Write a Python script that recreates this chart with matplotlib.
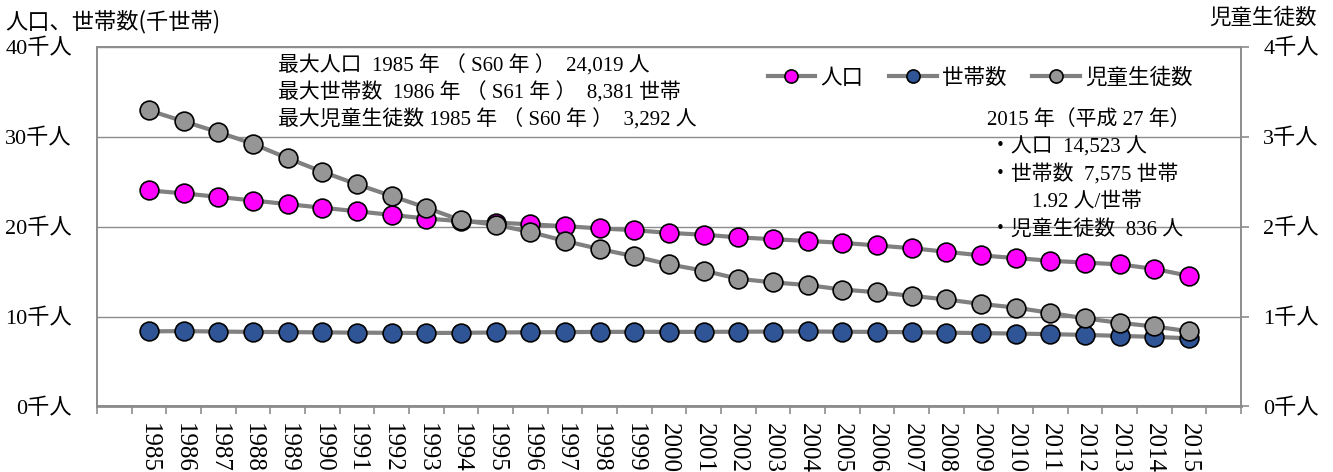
import numpy as np
import matplotlib.pyplot as plt

plt.rcParams['font.family'] = ['Liberation Serif', 'Noto Sans CJK JP']

years = list(range(1985, 2016))

# 人口 (千人)
population = [24.019, 23.7, 23.3, 22.9, 22.5, 22.1, 21.7, 21.3, 20.9, 20.6,
              20.45, 20.25, 20.05, 19.8, 19.6, 19.3, 19.1, 18.8, 18.6, 18.4,
              18.2, 17.9, 17.6, 17.2, 16.8, 16.5, 16.2, 16.0, 15.8, 15.3, 14.523]

# 世帯数 (千世帯)
households = [8.35, 8.381, 8.33, 8.29, 8.27, 8.24, 8.21, 8.19, 8.17, 8.19,
              8.23, 8.25, 8.27, 8.29, 8.30, 8.29, 8.30, 8.31, 8.33, 8.34,
              8.31, 8.29, 8.26, 8.21, 8.16, 8.11, 8.04, 7.96, 7.85, 7.74, 7.575]

# 児童生徒数 (千人)
students = [3.292, 3.17, 3.05, 2.92, 2.76, 2.61, 2.47, 2.34, 2.21, 2.07,
            2.02, 1.94, 1.84, 1.75, 1.67, 1.58, 1.51, 1.42, 1.38, 1.35,
            1.30, 1.27, 1.23, 1.19, 1.14, 1.10, 1.04, 0.98, 0.93, 0.89, 0.836]

left_ticks = [0, 10, 20, 30, 40]
right_ticks = [0, 1, 2, 3, 4]

note_max = ['最大人口  1985 年 （ S60 年 ）  24,019 人',
            '最大世帯数  1986 年 （ S61 年 ）  8,381 世帯',
            '最大児童生徒数 1985 年 （ S60 年 ）  3,292 人']
note_2015 = ['2015 年（平成 27 年）', '・人口  14,523 人', '・世帯数  7,575 世帯',
             '        1.92 人/世帯', '・児童生徒数  836 人']

line_col = '#808080'
axis_col = '#8c8c8c'

fig = plt.figure(figsize=(13.33, 4.72), dpi=100)
ax = fig.add_axes([0.0728, 0.1388, 0.8582, 0.7622])
ax2 = ax.twinx()

x = np.arange(len(years))
mk = dict(marker='o', markersize=13.5, markeredgecolor='black',
          markeredgewidth=1.2, color=line_col, linewidth=3)
l1, = ax.plot(x, population, markerfacecolor='#ff00ff', label='人口', **mk)
l2, = ax.plot(x, households, markerfacecolor='#2f5597', label='世帯数', **mk)
l3, = ax2.plot(x, students, markerfacecolor='#969696', label='児童生徒数', **mk)

ax.set_xlim(-1.5, len(years) + 0.5)
ax.set_ylim(0, 40)
ax2.set_ylim(0, 4)

# category boundaries as ticks, years centred between them
ax.set_xticks(np.arange(-1.5, len(years) + 1, 1.0))
ax.set_xticklabels([])
ax.set_xticks(x, minor=True)
ax.set_xticklabels([str(y) for y in years], minor=True, rotation=-90,
                   fontsize=18, va='top', ha='center')
ax.tick_params(axis='x', which='major', length=6, width=1.2, color=axis_col)
ax.tick_params(axis='x', which='minor', length=0, pad=12)

ax.set_yticks(left_ticks)
ax.set_yticklabels([f'{v}千人' for v in left_ticks], fontsize=16)
ax2.set_yticks(right_ticks)
ax2.set_yticklabels([f'{v}千人' for v in right_ticks], fontsize=16)
ax.tick_params(axis='y', length=0, pad=18)
ax2.tick_params(axis='y', length=6, width=1.2, color=axis_col, pad=10)

ax.grid(axis='y', color=axis_col, linewidth=1)
ax.set_axisbelow(True)
for a in (ax, ax2):
    for s in a.spines.values():
        s.set_color(axis_col)
        s.set_linewidth(1.2)
ax.spines['bottom'].set_linewidth(2)

fig.text(0.004, 0.955, '人口、世帯数(千世帯)', fontsize=16,
         family='Noto Sans CJK JP', va='center')
fig.text(0.988, 0.962, '児童生徒数', fontsize=15.5,
         family='Noto Sans CJK JP', va='center', ha='right')

for i, t in enumerate(note_max):
    fig.text(278 / 1333, 1 - (66 + 27 * i) / 472, t, fontsize=15, va='center')
for i, t in enumerate(note_2015):
    xpos = 987 if i == 0 else 990
    fig.text(xpos / 1333, 1 - (120 + 27.5 * i) / 472, t, fontsize=15, va='center')

ax2.legend(handles=[l1, l2, l3], loc='center left',
           bbox_to_anchor=(757 / 1333, 1 - 78 / 472),
           bbox_transform=fig.transFigure, ncol=3, frameon=False,
           handlelength=2.2, handletextpad=0.25, columnspacing=1.2,
           markerscale=0.7, borderpad=0,
           prop={'family': 'Noto Sans CJK JP', 'size': 15.5})

fig.savefig('out.png', dpi=100)
